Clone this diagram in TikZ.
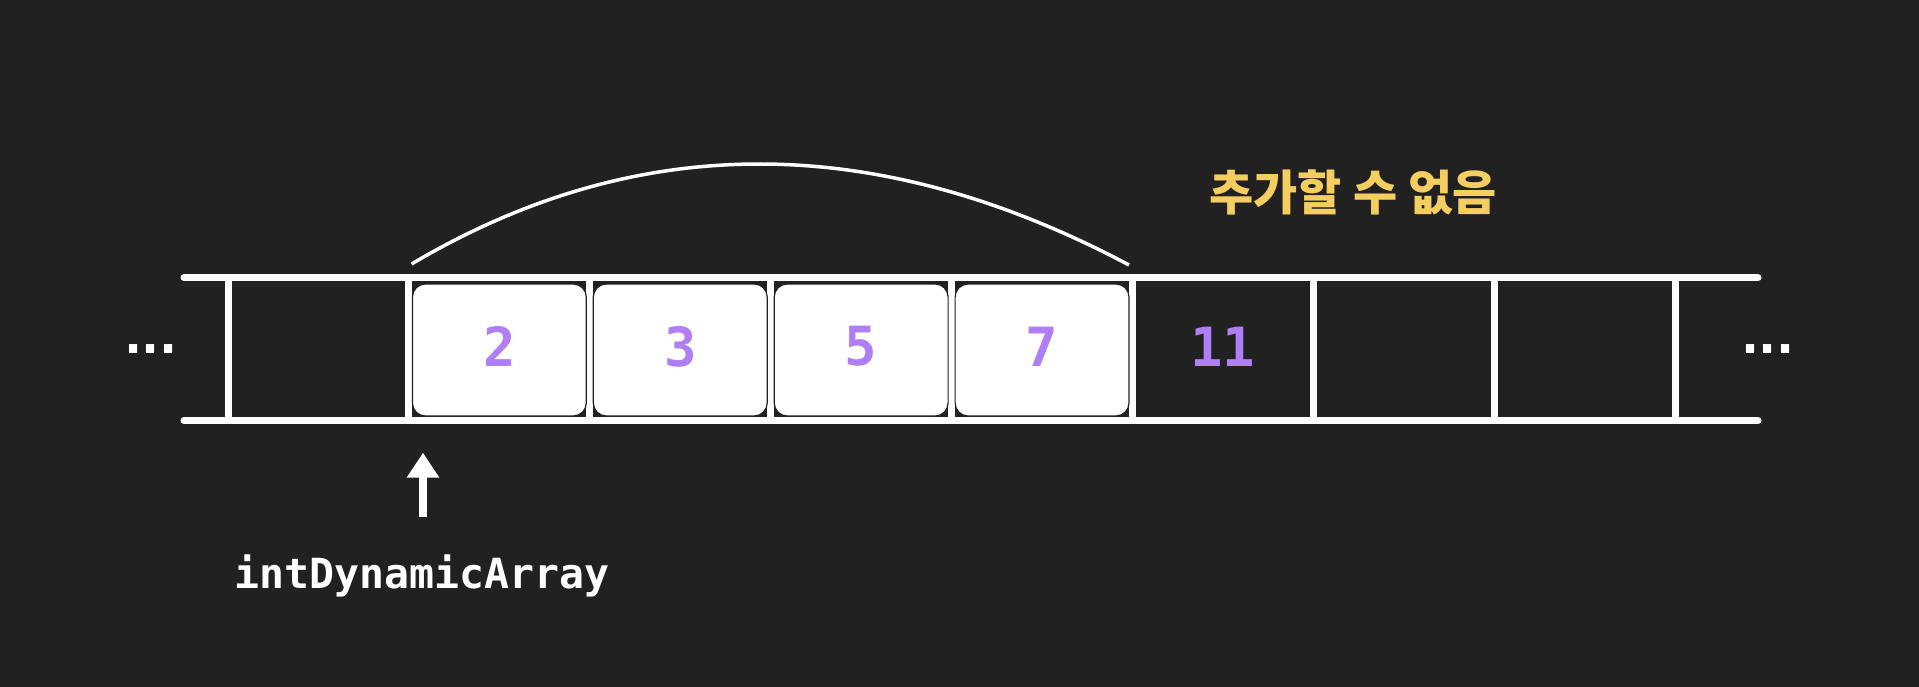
\documentclass[tikz,border=0pt]{standalone}
\usepackage{fontspec}
\setmonofont{DejaVu Sans Mono}
\newfontfamily\krfont{Noto Sans CJK KR}
\usetikzlibrary{arrows.meta}
\definecolor{bg}{HTML}{212121}
\definecolor{num}{HTML}{B07EF7}
\definecolor{warn}{HTML}{F4CE5E}
\tikzset{
  rail/.style={draw=white, line width=7pt, line cap=round},
  divider/.style={draw=white, line width=7pt},
  cellbox/.style={fill=white, draw=bg, line width=1.2pt, rounded corners=13pt,
    minimum width=173.9pt, minimum height=132pt, inner sep=0pt},
  numtext/.style={text=num, inner sep=0pt, font=\fontsize{54}{54}\selectfont\ttfamily\bfseries},
  labeltext/.style={text=white, inner sep=0pt, font=\fontsize{41.5}{41.5}\selectfont\ttfamily\bfseries},
  dots/.style={text=white, inner sep=0pt, font=\fontsize{50}{50}\selectfont\ttfamily\bfseries},
  warntext/.style={text=warn, inner sep=0pt, font=\fontsize{48}{48}\selectfont\krfont\bfseries},
  arcline/.style={draw=white, line width=3.5pt},
  pointer/.style={draw=white, line width=8pt, -{Triangle[width=31pt,length=25pt]}}
}
\begin{document}
\begin{tikzpicture}[x=1pt,y=-1pt]
\fill[bg] (0,0) rectangle (1919,687);
\useasboundingbox (0,0) rectangle (1919,687);
% rails
\draw[rail] (184,277.7) -- (1758,277.7);
\draw[rail] (184,420.5) -- (1758,420.5);
% dividers
\foreach \i in {0,...,8} {
  \draw[divider] ({228+180.9*\i},277.7) -- ({228+180.9*\i},420.5);
}
% filled cells
\foreach \i/\v in {1/2,2/3,3/5,4/7} {
  \node[cellbox] (box\i) at ({318.45+180.9*\i},350) {};
  \node[numtext] (num\i) at ({318.45+180.9*\i},346.5) {\v};
}
\node[numtext] (num5) at ({318.45+180.9*5},346.5) {11};
% dots
\node[dots] (ldots) at (151,349) {.\kern-13pt.\kern-13pt.};
\node[dots] (rdots) at (1768,349) {.\kern-13pt.\kern-13pt.};
% arc
\coordinate (arcL) at (411.6,264);
\coordinate (arcC1) at (637.2,130.3);
\coordinate (arcC2) at (876.3,130.7);
\coordinate (arcR) at (1129,265);
\draw[arcline] (arcL) .. controls (arcC1) and (arcC2) .. (arcR);
% message
\node[warntext] (msg) at (1353,192) {추가할 수 없음};
% pointer
\node[labeltext, anchor=base] (lbl) at (422,588) {intDynamicArray};
\coordinate (tail) at (423,516.7);
\coordinate (tip) at (423,452.7);
\draw[pointer] (tail) -- (tip);
\end{tikzpicture}
\end{document}
